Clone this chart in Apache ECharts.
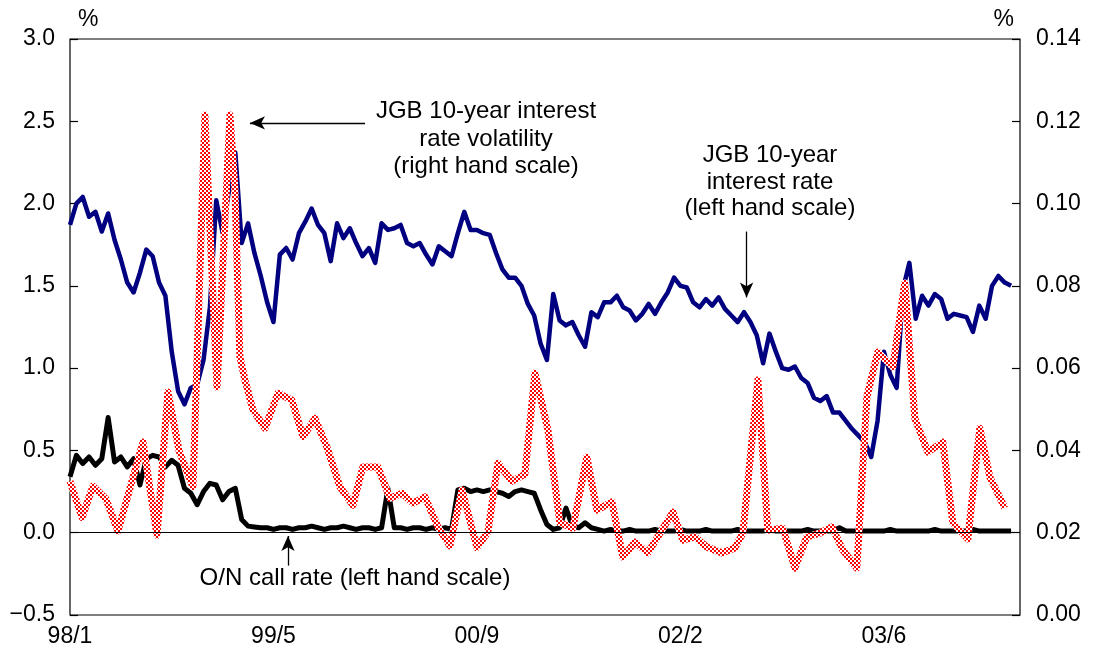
<!DOCTYPE html>
<html>
<head>
<meta charset="utf-8">
<script src="https://cdn.jsdelivr.net/npm/echarts@6/dist/echarts.min.js"></script>
<style>html,body{margin:0;padding:0;background:#fff}#c{width:1093px;height:656px}</style>
</head>
<body>
<div id="c"></div>
<script>
// x unit: months-like index from 98/1; tick labels every 16 units
const xTickLabels = ['98/1', '99/5', '00/9', '02/2', '03/6'];
const STEP = 0.5; // semi-monthly sampling for rate series

// JGB 10-year interest rate (%), left scale
const jgbRate = [
1.87,2.00,2.04,1.92,1.95,1.83,1.94,1.78,1.66,1.52,
1.46,1.58,1.72,1.68,1.52,1.44,1.10,0.86,0.78,0.88,
0.90,1.05,1.37,2.02,1.82,2.08,2.31,1.76,1.88,1.70,
1.56,1.40,1.28,1.69,1.73,1.66,1.82,1.89,1.97,1.87,
1.82,1.65,1.88,1.79,1.85,1.76,1.68,1.73,1.64,1.88,
1.84,1.85,1.87,1.76,1.74,1.76,1.69,1.63,1.74,1.71,
1.68,1.82,1.95,1.84,1.84,1.82,1.81,1.70,1.60,1.55,
1.55,1.50,1.39,1.32,1.15,1.05,1.45,1.29,1.26,1.28,
1.20,1.13,1.34,1.31,1.40,1.40,1.44,1.37,1.35,1.29,
1.33,1.39,1.33,1.40,1.46,1.55,1.50,1.49,1.40,1.37,
1.42,1.38,1.43,1.36,1.32,1.28,1.34,1.28,1.20,1.03,
1.21,1.10,1.00,0.99,1.01,0.94,0.91,0.82,0.80,0.83,
0.73,0.73,0.68,0.63,0.59,0.55,0.46,0.68,1.10,0.96,
0.88,1.48,1.64,1.30,1.44,1.38,1.45,1.42,1.30,1.33,
1.32,1.31,1.22,1.38,1.30,1.50,1.56,1.52,1.50
];

// O/N call rate (%), left scale
const callRate = [
0.34,0.47,0.42,0.46,0.41,0.45,0.70,0.43,0.46,0.40,
0.45,0.29,0.45,0.47,0.46,0.40,0.44,0.41,0.27,0.24,
0.17,0.25,0.30,0.29,0.20,0.25,0.27,0.08,0.04,0.035,
0.03,0.03,0.02,0.03,0.03,0.02,0.03,0.03,0.04,0.03,
0.02,0.03,0.03,0.04,0.03,0.02,0.03,0.03,0.02,0.03,
0.27,0.03,0.03,0.02,0.03,0.03,0.02,0.03,0.02,0.03,
0.02,0.26,0.27,0.25,0.26,0.25,0.26,0.25,0.24,0.22,
0.25,0.26,0.25,0.24,0.14,0.05,0.02,0.03,0.15,0.04,
0.03,0.06,0.03,0.02,0.01,0.02,0.01,0.01,0.02,0.01,
0.01,0.01,0.02,0.01,0.01,0.01,0.02,0.01,0.01,0.01,
0.02,0.01,0.01,0.01,0.01,0.02,0.01,0.01,0.01,0.01,
0.02,0.01,0.01,0.01,0.01,0.01,0.02,0.01,0.01,0.01,
0.01,0.03,0.01,0.01,0.01,0.01,0.01,0.01,0.01,0.02,
0.01,0.01,0.01,0.01,0.01,0.01,0.02,0.01,0.01,0.01,
0.01,0.01,0.02,0.01,0.01,0.01,0.01,0.01,0.01
];

// JGB 10-year interest rate volatility (%), right scale
const volT = [
0,0.94,1.81,2.83,3.77,4.64,5.74,6.84,7.70,8.57,
9.67,10.61,11.56,12.58,12.97,13.36,13.76,14.39,15.33,16.35,
17.45,18.32,19.26,20.20,21.23,22.25,23.03,24.21,25.16,26.10,
26.97,27.91,28.93,29.87,30.82,32.00,32.86,33.65,34.75,35.77,
36.56,37.58,38.52,39.54,40.64,41.43,42.61,43.47,44.42,45.44,
47.41,48.19,49.14,50.08,51.26,52.28,52.91,54.09,54.87,56.05,
57.00,57.94,58.96,59.91,60.77,61.87,62.66,63.52,64.70,65.64,
66.43,67.45,68.63,69.42,70.60,71.54,72.33,73.51
];
const volV = [
0.0325,0.0237,0.0313,0.0282,0.0204,0.0300,0.0420,0.0194,0.0542,0.0400,
0.0311,0.1215,0.0554,0.1215,0.1033,0.0627,0.0571,0.0498,0.0454,0.0539,
0.0522,0.0433,0.0478,0.0408,0.0311,0.0267,0.0360,0.0360,0.0284,0.0296,
0.0272,0.0287,0.0214,0.0168,0.0304,0.0164,0.0202,0.0369,0.0325,0.0342,
0.0588,0.0450,0.0224,0.0211,0.0384,0.0255,0.0275,0.0141,0.0177,0.0151,
0.0250,0.0182,0.0190,0.0165,0.0151,0.0163,0.0199,0.0571,0.0206,0.0211,
0.0114,0.0190,0.0199,0.0214,0.0158,0.0114,0.0530,0.0639,0.0603,0.0807,
0.0478,0.0396,0.0420,0.0224,0.0185,0.0454,0.0335,0.0260
];

const FONT = "'Liberation Sans', Arial, sans-serif";

// checkered red/white pattern for volatility line
const pc = document.createElement('canvas');
pc.width = 4; pc.height = 4;
const pctx = pc.getContext('2d');
pctx.fillStyle = '#ffffff'; pctx.fillRect(0, 0, 4, 4);
pctx.fillStyle = '#ff0000'; pctx.fillRect(0, 0, 2, 2); pctx.fillRect(2, 2, 2, 2);

const chart = echarts.init(document.getElementById('c'), null, {renderer: 'canvas'});
chart.setOption({
  animation: false,
  backgroundColor: '#fff',
  grid: {left: 70, right: 73, top: 39, bottom: 41, show: true, borderColor: '#000', borderWidth: 1.2, containLabel: false},
  xAxis: {
    type: 'value', min: 0, max: 74.7, interval: 16,
    axisLine: {show: false}, axisTick: {show: false}, splitLine: {show: false},
    axisLabel: {
      color: '#000', fontSize: 23, fontFamily: FONT, margin: 10, showMaxLabel: false,
      formatter: v => (Math.abs(v / 16 - Math.round(v / 16)) < 1e-6 && xTickLabels[Math.round(v / 16)]) || ''
    }
  },
  yAxis: [
    {
      type: 'value', min: -0.5, max: 3.0, interval: 0.5, position: 'left',
      name: '%', nameLocation: 'end', nameGap: 8,
      nameTextStyle: {color: '#000', fontSize: 23, fontFamily: FONT, align: 'left', padding: [0, 0, 0, 8]},
      axisLine: {show: false}, splitLine: {show: false},
      axisTick: {show: true, inside: true, length: 8, lineStyle: {color: '#000', width: 1.2}},
      axisLabel: {color: '#000', fontSize: 23, fontFamily: FONT, margin: 15,
        formatter: v => (v < 0 ? '\u2212' : '') + Math.abs(v).toFixed(1)}
    },
    {
      type: 'value', min: 0, max: 0.14, interval: 0.02, position: 'right',
      name: '%', nameLocation: 'end', nameGap: 8,
      nameTextStyle: {color: '#000', fontSize: 23, fontFamily: FONT, align: 'right', padding: [0, 6, 0, 0]},
      axisLine: {show: false}, splitLine: {show: false},
      axisTick: {show: true, inside: true, length: 8, lineStyle: {color: '#000', width: 1.2}},
      axisLabel: {color: '#000', fontSize: 23, fontFamily: FONT, margin: 16,
        formatter: v => v.toFixed(2)}
    }
  ],
  series: [
    {
      name: 'O/N call rate', type: 'line', yAxisIndex: 0, showSymbol: false, z: 2,
      data: callRate.map((v, i) => [i * STEP, v]),
      lineStyle: {color: '#000', width: 5, join: 'round'},
      markLine: {
        silent: true, symbol: 'none', animation: false,
        label: {show: false},
        lineStyle: {color: '#000', width: 1.2, type: 'solid'},
        data: [{yAxis: 0}]
      }
    },
    {
      name: 'JGB 10-year interest rate', type: 'line', yAxisIndex: 0, showSymbol: false, z: 3,
      data: jgbRate.map((v, i) => [i * STEP, v]),
      lineStyle: {color: '#000080', width: 4.5, join: 'round'},
      markLine: {
        silent: true, symbol: ['none', 'arrow'], symbolSize: [10, 15], animation: false,
        label: {show: false},
        lineStyle: {color: '#000', width: 1.3, type: 'solid'},
        data: [
          [{coord: [23.2, 2.49]}, {coord: [14.15, 2.49]}],
          [{coord: [53.2, 1.83]}, {coord: [53.2, 1.43]}],
          [{coord: [17.14, -0.20]}, {coord: [17.14, -0.02]}]
        ]
      }
    },
    {
      name: 'JGB 10-year interest rate volatility', type: 'line', yAxisIndex: 1, showSymbol: false, z: 4,
      data: volT.map((t, i) => [t, volV[i]]),
      lineStyle: {color: {image: pc, repeat: 'repeat'}, width: 7, join: 'round'}
    }
  ],
  graphic: [
    {type: 'text', x: 486, y: 139, z: 10, style: {text: 'JGB 10-year interest\nrate volatility\n(right hand scale)', align: 'center', verticalAlign: 'middle', fontSize: 24, fontFamily: FONT, lineHeight: 27.5, fill: '#000'}},
    {type: 'text', x: 770, y: 182, z: 10, style: {text: 'JGB 10-year\ninterest rate\n(left hand scale)', align: 'center', verticalAlign: 'middle', fontSize: 24, fontFamily: FONT, lineHeight: 26.7, fill: '#000'}},
    {type: 'text', x: 355, y: 578, z: 10, style: {text: 'O/N call rate (left hand scale)', align: 'center', verticalAlign: 'middle', fontSize: 24, fontFamily: FONT, fill: '#000'}}
  ]
});
</script>
</body>
</html>
